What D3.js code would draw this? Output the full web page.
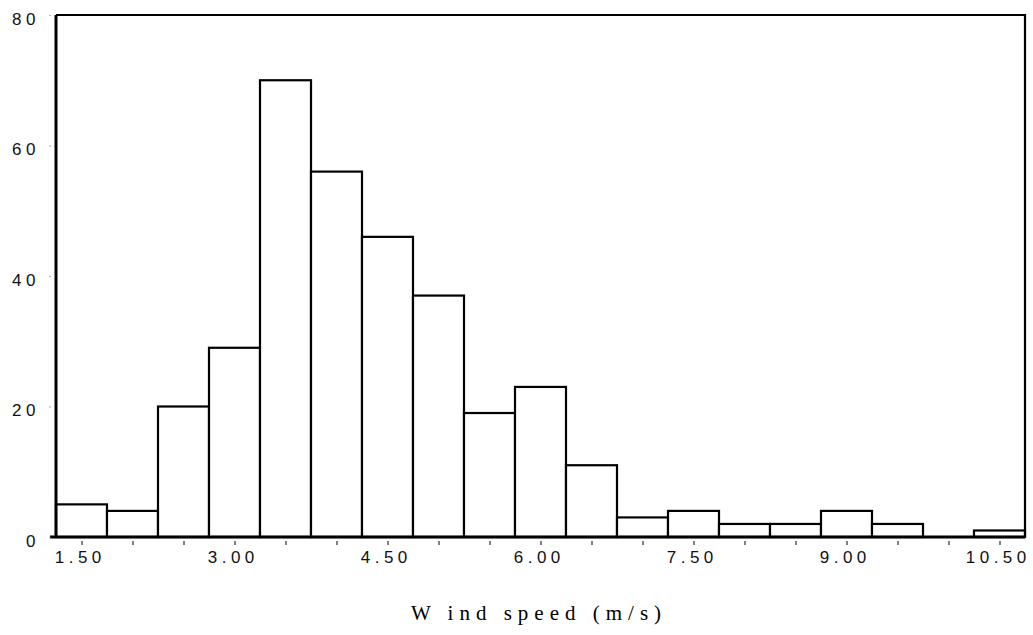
<!DOCTYPE html>
<html>
<head>
<meta charset="utf-8">
<script src="https://cdn.jsdelivr.net/npm/d3@7"></script>
<style>
  body { margin: 0; background: #fff; }
  .tick text { font-family: "Liberation Sans", Arial, sans-serif; font-size: 17px; letter-spacing: 4.5px; fill: #111; }
</style>
</head>
<body>
<div id="chart"></div>
<script>
// bin centres (m/s), bin width 0.5
const binCenters = [1.5, 2.0, 2.5, 3.0, 3.5, 4.0, 4.5, 5.0, 5.5, 6.0, 6.5, 7.0, 7.5, 8.0, 8.5, 9.0, 9.5, 10.0, 10.5];
const counts = [5, 4, 20, 29, 70, 56, 46, 37, 19, 23, 11, 3, 4, 2, 2, 4, 2, 0, 1];
const xTickValues = [1.5, 3.0, 4.5, 6.0, 7.5, 9.0, 10.5];
const xMinorTicks = [1.5, 2.0, 2.5, 3.0, 3.5, 4.0, 4.5, 5.0, 5.5, 6.0, 6.5, 7.0, 7.5, 8.0, 8.5, 9.0, 9.5, 10.0, 10.5];
const yTickValues = [0, 20, 40, 60, 80];
const binWidth = 0.5;
const xLabel = "W ind speed (m/s)";

const margin = {top: 15, right: 8, bottom: 98, left: 56};
const fullW = 1033, fullH = 635;
const width = fullW - margin.left - margin.right;
const height = fullH - margin.top - margin.bottom;
const ls = 4.5; // letter spacing of tick labels

const svg = d3.select("#chart").append("svg")
    .attr("width", fullW)
    .attr("height", fullH)
    .append("g")
    .attr("transform", "translate(" + margin.left + "," + margin.top + ")");

const x = d3.scaleLinear().domain([1.25, 10.75]).range([0, width]);
const y = d3.scaleLinear().domain([0, 80]).range([height, 0]);

// bars
svg.selectAll(".bar")
    .data(binCenters.map((c, i) => ({c: c, n: counts[i]})).filter(d => d.n > 0))
    .enter().append("rect")
    .attr("class", "bar")
    .attr("x", d => x(d.c - binWidth / 2))
    .attr("width", d => x(d.c + binWidth / 2) - x(d.c - binWidth / 2))
    .attr("y", d => y(d.n))
    .attr("height", d => height - y(d.n))
    .style("fill", "#fff")
    .style("stroke", "#000")
    .style("stroke-width", 2.2);

// frame: top and right
svg.append("path")
    .attr("d", "M0," + y(80) + "H" + width + "V" + height)
    .style("fill", "none")
    .style("stroke", "#000")
    .style("stroke-width", 2.2);

// minor ticks on x
svg.append("g")
    .attr("transform", "translate(0," + height + ")")
    .call(d3.axisBottom(x).tickValues(xMinorTicks).tickSize(0).tickFormat(""))
    .call(g => g.select(".domain").remove())
    .selectAll(".tick").append("line")
    .attr("y1", 4).attr("y2", 8)
    .attr("stroke", "#000").attr("stroke-width", 1);

// x axis
const xAxis = svg.append("g")
    .attr("class", "x axis")
    .attr("transform", "translate(0," + height + ")")
    .call(d3.axisBottom(x).tickValues(xTickValues).tickSize(0).tickPadding(14).tickFormat(d3.format(".2f")));
xAxis.select(".domain").remove();
xAxis.append("line")
    .attr("x1", -6).attr("x2", width)
    .attr("stroke", "#000").attr("stroke-width", 3);
xAxis.selectAll("text").attr("dx", (ls / 2 - 4) + "px");

// y axis
const yAxis = svg.append("g")
    .attr("class", "y axis")
    .call(d3.axisLeft(y).tickValues(yTickValues).tickSize(0).tickPadding(16));
yAxis.select(".domain").remove();
yAxis.append("line")
    .attr("y1", 0).attr("y2", height)
    .attr("stroke", "#000").attr("stroke-width", 3);
yAxis.selectAll(".tick").append("circle")
    .attr("cx", -6).attr("r", 0.7).attr("fill", "#888");
yAxis.selectAll("text").attr("dy", "0.53em");

// axis title
svg.append("text")
    .attr("x", 536 - margin.left + 3)
    .attr("y", 620 - margin.top)
    .attr("text-anchor", "middle")
    .style("font-family", "'Liberation Serif', 'Times New Roman', serif")
    .style("font-size", "21px")
    .style("letter-spacing", "6px")
    .text(xLabel);
</script>
</body>
</html>
